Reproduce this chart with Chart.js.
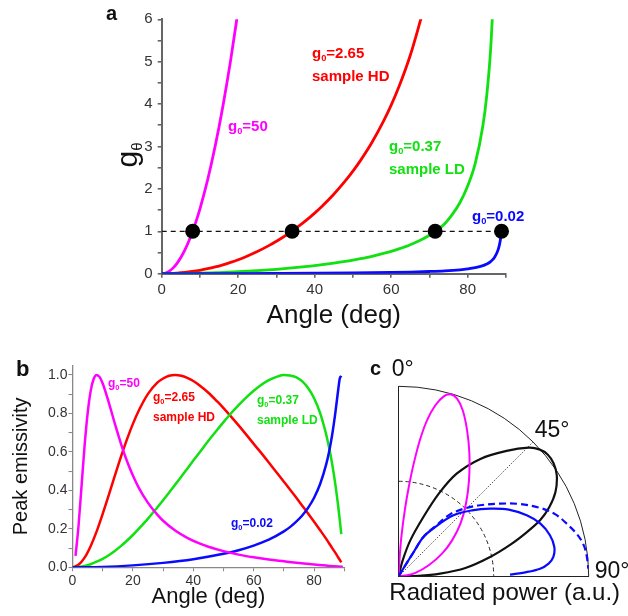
<!DOCTYPE html>
<html>
<head>
<meta charset="utf-8">
<script src="https://cdn.jsdelivr.net/npm/chart.js@4.4.0/dist/chart.umd.min.js"></script>
<style>
  body { margin: 0; background: #fff; }
  #fig { position: relative; width: 628px; height: 616px; overflow: hidden;
         font-family: "Liberation Sans", Arial, sans-serif; color: #111; }
  canvas { position: absolute; }
  .lbl { position: absolute; font-weight: bold; line-height: 1; white-space: nowrap; }
  .lbl sub { font-size: 0.62em; vertical-align: -0.35em; line-height: 0; }
  .mag { color: #ff00ff; } .red { color: #ff0000; } .grn { color: #11e011; } .blu { color: #0a0aff; }
  #gTitle { position: absolute; font-size: 30px; line-height: 1; white-space: nowrap;
            transform: translate(-50%, -50%) rotate(-90deg); }
  #gTitle sub { font-size: 0.5em; vertical-align: -0.3em; line-height: 0; }
</style>
</head>
<body>
<div id="fig">
  <canvas id="chartA" width="430" height="335" style="left:100px;top:0px"></canvas>
  <canvas id="chartB" width="360" height="276" style="left:0px;top:340px"></canvas>
  <canvas id="chartC" width="248" height="266" style="left:380px;top:350px"></canvas>

  <div class="lbl" style="left:106px;top:3px;font-size:20px">a</div>
  <div id="gTitle" style="left:127px;top:155px">g<sub>θ</sub></div>
  <div class="lbl mag" style="left:228px;top:118px;font-size:15px">g<sub>0</sub>=50</div>
  <div class="lbl red" style="left:312px;top:45px;font-size:15px">g<sub>0</sub>=2.65</div>
  <div class="lbl red" style="left:312px;top:68px;font-size:15px">sample HD</div>
  <div class="lbl grn" style="left:389px;top:138px;font-size:15px">g<sub>0</sub>=0.37</div>
  <div class="lbl grn" style="left:389px;top:161px;font-size:15px">sample LD</div>
  <div class="lbl blu" style="left:472px;top:208px;font-size:15px">g<sub>0</sub>=0.02</div>

  <div class="lbl" style="left:16px;top:358px;font-size:22px">b</div>
  <div class="lbl mag" style="left:108px;top:377px;font-size:12px">g<sub>0</sub>=50</div>
  <div class="lbl red" style="left:153px;top:391px;font-size:12px">g<sub>0</sub>=2.65</div>
  <div class="lbl red" style="left:153px;top:411px;font-size:12px">sample HD</div>
  <div class="lbl grn" style="left:257px;top:394px;font-size:12px">g<sub>0</sub>=0.37</div>
  <div class="lbl grn" style="left:257px;top:414px;font-size:12px">sample LD</div>
  <div class="lbl blu" style="left:231px;top:517px;font-size:12px">g<sub>0</sub>=0.02</div>

  <div class="lbl" style="left:370px;top:358px;font-size:20px">c</div>
</div>

<script>
// ---- panel a : g_theta vs angle
var aMagAngle = [0, 1, 2, 3, 4, 5, 6, 7, 8, 9, 10, 12, 14, 16, 18, 20];
var aMagG = [0, 0.015, 0.061, 0.137, 0.244, 0.381, 0.549, 0.748, 0.978, 1.239, 1.531, 2.21, 3.016, 3.952, 5.02, 6.224];
var aRedAngle = [0, 2, 4, 6, 8, 10, 12, 14, 16, 18, 20, 22, 25, 28, 30, 32, 34, 36, 38, 40, 42, 45, 48, 50, 52, 55, 58, 60, 62, 65, 68];
var aRedG = [0, 0.003, 0.013, 0.029, 0.052, 0.081, 0.117, 0.16, 0.21, 0.266, 0.33, 0.401, 0.522, 0.662, 0.765, 0.878, 1.0, 1.132, 1.275, 1.429, 1.597, 1.874, 2.187, 2.419, 2.673, 3.1, 3.597, 3.975, 4.401, 5.151, 6.081];
var aGreenAngle = [0, 5, 10, 15, 20, 25, 30, 34, 38, 40, 42, 45, 48, 50, 52, 55, 58, 60, 62, 65, 68, 70, 72, 74, 76, 78, 80, 82, 84, 85, 86, 87];
var aGreenG = [0, 0.003, 0.011, 0.026, 0.046, 0.073, 0.104, 0.135, 0.171, 0.19, 0.212, 0.249, 0.29, 0.321, 0.355, 0.411, 0.477, 0.527, 0.584, 0.683, 0.807, 0.908, 1.029, 1.18, 1.4, 1.68, 2.067, 2.607, 3.501, 4.213, 5.278, 7.05];
var aBlueAngle = [0, 10, 20, 30, 40, 50, 60, 65, 70, 74, 78, 80, 82, 84, 85, 86, 87, 88, 88.5, 88.85];
var aBlueG = [0, 0.001, 0.002, 0.006, 0.011, 0.018, 0.03, 0.039, 0.052, 0.067, 0.092, 0.112, 0.141, 0.189, 0.228, 0.285, 0.381, 0.572, 0.764, 0.996];
var aRefAngle = [0, 90];
var aRefG = [1, 1];
var aDotAngle = [8.1, 34.1, 71.5, 88.85];
var aDotG = [1, 1, 1, 1];
var aXTicks = [0, 10, 20, 30, 40, 50, 60, 70, 80, 90];
var aXLabels = [0, 20, 40, 60, 80];
var aYTicks = [0, 0.5, 1, 1.5, 2, 2.5, 3, 3.5, 4, 4.5, 5, 5.5, 6];
var aYLabels = [0, 1, 2, 3, 4, 5, 6];

// ---- panel b : peak emissivity vs angle
var bMagAngle = [1, 2, 3, 4, 5, 6, 7, 8, 9, 10, 12, 14, 16, 18, 20, 22, 25, 28, 30, 34, 38, 42, 45, 50, 55, 60, 65, 70, 75, 80, 85, 88, 89.5];
var bMagE = [0.059, 0.216, 0.424, 0.631, 0.799, 0.915, 0.979, 1.0, 0.989, 0.956, 0.858, 0.748, 0.645, 0.554, 0.477, 0.412, 0.335, 0.275, 0.242, 0.191, 0.153, 0.124, 0.107, 0.084, 0.066, 0.052, 0.04, 0.031, 0.022, 0.014, 0.007, 0.004, 0.003];
var bRedAngle = [0, 2, 4, 6, 8, 10, 12, 14, 16, 18, 20, 22, 25, 28, 30, 32, 34, 36, 38, 40, 42, 45, 48, 50, 52, 55, 58, 60, 62, 65, 68, 70, 72, 74, 76, 78, 80, 82, 84, 85, 86, 87, 88, 89];
var bRedE = [0, 0.013, 0.05, 0.11, 0.187, 0.278, 0.375, 0.475, 0.573, 0.664, 0.746, 0.817, 0.902, 0.959, 0.982, 0.996, 1.0, 0.996, 0.985, 0.969, 0.947, 0.908, 0.861, 0.828, 0.793, 0.738, 0.681, 0.642, 0.604, 0.545, 0.485, 0.445, 0.405, 0.364, 0.322, 0.28, 0.237, 0.193, 0.148, 0.124, 0.1, 0.076, 0.051, 0.026];
var bGreenAngle = [0, 2, 4, 6, 8, 10, 12, 14, 16, 18, 20, 22, 25, 28, 30, 32, 34, 36, 38, 40, 42, 45, 48, 50, 52, 55, 58, 60, 62, 65, 68, 70, 72, 74, 76, 78, 80, 82, 84, 85, 86, 87, 88, 88.5, 89];
var bGreenE = [0, 0.002, 0.007, 0.016, 0.029, 0.044, 0.063, 0.085, 0.11, 0.138, 0.168, 0.201, 0.253, 0.31, 0.349, 0.389, 0.43, 0.471, 0.513, 0.555, 0.596, 0.658, 0.717, 0.755, 0.792, 0.843, 0.89, 0.918, 0.943, 0.973, 0.993, 1.0, 0.998, 0.989, 0.968, 0.932, 0.879, 0.802, 0.691, 0.62, 0.536, 0.435, 0.315, 0.247, 0.172];
var bBlueAngle = [0, 10, 20, 30, 40, 50, 55, 60, 65, 70, 72, 74, 76, 78, 80, 82, 84, 85, 86, 87, 88, 88.5, 89];
var bBlueE = [0, 0.002, 0.01, 0.023, 0.042, 0.07, 0.089, 0.113, 0.144, 0.187, 0.209, 0.236, 0.268, 0.309, 0.362, 0.433, 0.535, 0.604, 0.691, 0.799, 0.926, 0.982, 0.995];
var bXTicks = [0, 10, 20, 30, 40, 50, 60, 70, 80, 90];
var bXLabels = [0, 20, 40, 60, 80];
var bYTicks = [0, 0.1, 0.2, 0.3, 0.4, 0.5, 0.6, 0.7, 0.8, 0.9, 1.0];
var bYLabels = [0, 0.2, 0.4, 0.6, 0.8, 1.0];

// ---- panel c : radiated power, polar quadrant (x = sin side, y = cos side)
var cMagX = [0, 0.004, 0.014, 0.032, 0.053, 0.079, 0.114, 0.149, 0.193, 0.237, 0.272, 0.307, 0.337, 0.36, 0.372, 0.37, 0.354, 0.325, 0.281, 0.228, 0.158, 0.088, 0.035, 0];
var cMagY = [0, 0.084, 0.207, 0.347, 0.47, 0.593, 0.725, 0.821, 0.9, 0.947, 0.958, 0.935, 0.874, 0.768, 0.646, 0.505, 0.382, 0.277, 0.189, 0.119, 0.058, 0.018, 0.004, 0];
var cBlackX = [0, 0.018, 0.061, 0.13, 0.211, 0.305, 0.43, 0.568, 0.684, 0.74, 0.785, 0.815, 0.832, 0.825, 0.793, 0.744, 0.675, 0.588, 0.481, 0.351, 0.218, 0.105, 0];
var cBlackY = [0, 0.075, 0.189, 0.312, 0.435, 0.54, 0.618, 0.66, 0.677, 0.668, 0.64, 0.595, 0.532, 0.444, 0.365, 0.295, 0.233, 0.167, 0.102, 0.044, 0.014, 0.002, 0];
var cBlueX = [0, 0.035, 0.079, 0.13, 0.193, 0.288, 0.386, 0.481, 0.579, 0.674, 0.746, 0.796, 0.819, 0.814, 0.789, 0.744, 0.667, 0.586];
var cBlueY = [0, 0.058, 0.128, 0.207, 0.26, 0.321, 0.347, 0.356, 0.351, 0.321, 0.277, 0.216, 0.154, 0.102, 0.067, 0.04, 0.021, 0.009];
var cBlueDashX = [0, 0.035, 0.079, 0.13, 0.193, 0.27, 0.351, 0.428, 0.526, 0.632, 0.744, 0.825, 0.884, 0.939, 0.972, 0.989, 0.998];
var cBlueDashY = [0, 0.058, 0.128, 0.207, 0.263, 0.326, 0.358, 0.374, 0.382, 0.381, 0.36, 0.326, 0.277, 0.221, 0.168, 0.111, 0.04];
var cDiagX = [0, 0.707];
var cDiagY = [0, 0.707];
var cDashRadius = 0.5;

var MAG = "#ff00ff", RED = "#ff0000", GREEN = "#11e011", BLUE = "#0a0aff";

Chart.defaults.font.family = '"Liberation Sans", Arial, sans-serif';
Chart.defaults.color = "#333";

function pts(xs, ys) {
  return xs.map(function (x, i) { return { x: x, y: ys[i] }; });
}

function curve(xs, ys, color, width, extra) {
  return Object.assign({
    data: pts(xs, ys),
    showLine: true,
    borderColor: color,
    backgroundColor: color,
    borderWidth: width,
    pointRadius: 0,
    fill: false,
    cubicInterpolationMode: "monotone"
  }, extra || {});
}

// fixed axis boxes so the plot areas land where the reference has them
function fixWidth(w) { return function (s) { s.width = w; }; }
function fixHeight(h) { return function (s) { s.height = h; }; }
function useTicks(values) {
  return function (s) { s.ticks = values.map(function (v) { return { value: v }; }); };
}

function axis(o) {
  return {
    type: "linear",
    min: o.min,
    max: o.max,
    afterBuildTicks: useTicks(o.ticks),
    afterFit: o.fit,
    border: { display: true, color: o.axisColor, width: o.axisWidth },
    grid: { display: true, drawOnChartArea: false, drawTicks: true, tickLength: 4, color: o.axisColor, lineWidth: o.axisWidth * 0.8 },
    ticks: {
      autoSkip: false,
      maxRotation: 0,
      padding: o.pad,
      color: "#333",
      font: { size: o.fontSize },
      callback: function (v) { return o.labels.indexOf(v) >= 0 ? o.fmt(v) : ""; }
    },
    title: o.title || { display: false }
  };
}

var baseOptions = {
  responsive: false,
  animation: false,
  devicePixelRatio: 1,
  plugins: { legend: { display: false }, tooltip: { enabled: false } }
};

// ---------- panel a
new Chart(document.getElementById("chartA"), {
  type: "scatter",
  data: {
    datasets: [
      { data: pts(aDotAngle, aDotG), pointRadius: 7.5, pointBorderWidth: 0, backgroundColor: "#000", showLine: false, clip: false },
      curve(aRefAngle, aRefG, "#111", 1.2, { borderDash: [5, 4] }),
      curve(aBlueAngle, aBlueG, BLUE, 2.8),
      curve(aGreenAngle, aGreenG, GREEN, 2.8),
      curve(aRedAngle, aRedG, RED, 2.8),
      curve(aMagAngle, aMagG, MAG, 2.8)
    ]
  },
  options: Object.assign({}, baseOptions, {
    layout: { padding: { left: 0, top: 19.3, right: 24.1, bottom: 0 } },
    scales: {
      x: axis({ min: 0, max: 90, ticks: aXTicks, labels: aXLabels, fmt: String, fit: fixHeight(61.3),
                axisColor: "#666", axisWidth: 2, pad: 3, fontSize: 15,
                title: { display: true, text: "Angle (deg)", color: "#111", font: { size: 26 }, padding: { top: 0, bottom: 4 } } }),
      y: axis({ min: 0, max: 6, ticks: aYTicks, labels: aYLabels, fmt: String, fit: fixWidth(61.7),
                axisColor: "#666", axisWidth: 2, pad: 5, fontSize: 15 })
    }
  })
});

// ---------- panel b
new Chart(document.getElementById("chartB"), {
  type: "scatter",
  data: {
    datasets: [
      curve(bMagAngle, bMagE, MAG, 2.5),
      curve(bBlueAngle, bBlueE, BLUE, 2.5),
      curve(bGreenAngle, bGreenE, GREEN, 2.5),
      curve(bRedAngle, bRedE, RED, 2.5)
    ]
  },
  options: Object.assign({}, baseOptions, {
    layout: { padding: { left: 0, top: 25.4, right: 15.7, bottom: 0 } },
    scales: {
      x: axis({ min: 0, max: 90, ticks: bXTicks, labels: bXLabels, fmt: String, fit: fixHeight(48.7),
                axisColor: "#888", axisWidth: 1.3, pad: 1, fontSize: 14,
                title: { display: true, text: "Angle (deg)", color: "#111", font: { size: 22 }, padding: { top: 0, bottom: 6 } } }),
      y: axis({ min: 0, max: 1.05, ticks: bYTicks, labels: bYLabels, fmt: function (v) { return v.toFixed(1); }, fit: fixWidth(72.5),
                axisColor: "#888", axisWidth: 1.3, pad: 1, fontSize: 14,
                title: { display: true, text: "Peak emissivity", color: "#111", font: { size: 20 }, padding: { top: 9, bottom: 0 } } })
    }
  })
});

// ---------- panel c
var quadrant = {
  id: "quadrant",
  beforeDatasetsDraw: function (chart) {
    var ctx = chart.ctx, x = chart.scales.x, y = chart.scales.y;
    var cx = x.getPixelForValue(0), cy = y.getPixelForValue(0);
    var R = x.getPixelForValue(1) - cx;
    ctx.save();
    ctx.strokeStyle = "#222";
    ctx.lineWidth = 1;
    ctx.beginPath();
    ctx.arc(cx, cy, R, -Math.PI / 2, 0);
    ctx.stroke();
    ctx.setLineDash([4, 3]);
    ctx.beginPath();
    ctx.arc(cx, cy, R * cDashRadius, -Math.PI / 2, 0);
    ctx.stroke();
    ctx.restore();
  },
  afterDraw: function (chart) {
    var ctx = chart.ctx, x = chart.scales.x, y = chart.scales.y;
    var cx = x.getPixelForValue(0), cy = y.getPixelForValue(0);
    ctx.save();
    ctx.fillStyle = "#111";
    ctx.textBaseline = "middle";
    ctx.font = '23px "Liberation Sans", Arial, sans-serif';
    ctx.textAlign = "left";
    ctx.fillText("0°", cx - 7, cy - 207);
    ctx.fillText("45°", cx + 136, cy - 146);
    ctx.fillText("90°", cx + 196, cy - 5);
    ctx.font = '24px "Liberation Sans", Arial, sans-serif';
    ctx.textAlign = "center";
    ctx.fillText("Radiated power (a.u.)", cx + 106, cy + 17);
    ctx.restore();
  }
};

new Chart(document.getElementById("chartC"), {
  type: "scatter",
  data: {
    datasets: [
      curve(cBlueDashX, cBlueDashY, BLUE, 2.2, { borderDash: [7, 4], cubicInterpolationMode: "default", tension: 0.35 }),
      curve(cBlueX, cBlueY, BLUE, 2.2, { cubicInterpolationMode: "default", tension: 0.35 }),
      curve(cMagX, cMagY, MAG, 2, { cubicInterpolationMode: "default", tension: 0.35 }),
      curve(cBlackX, cBlackY, "#111", 2.2, { cubicInterpolationMode: "default", tension: 0.3 }),
      curve(cDiagX, cDiagY, "#555", 1, { borderDash: [1.5, 1.5] })
    ]
  },
  options: Object.assign({}, baseOptions, {
    layout: { padding: { left: 0, top: 36.3, right: 39.3, bottom: 0 } },
    scales: {
      x: { type: "linear", min: 0, max: 1, afterFit: fixHeight(39.7),
           grid: { display: false }, ticks: { display: false },
           border: { display: true, color: "#222", width: 1 } },
      y: { type: "linear", min: 0, max: 1, afterFit: fixWidth(18.7),
           grid: { display: false }, ticks: { display: false },
           border: { display: true, color: "#222", width: 1 } }
    }
  }),
  plugins: [quadrant]
});
</script>
</body>
</html>
